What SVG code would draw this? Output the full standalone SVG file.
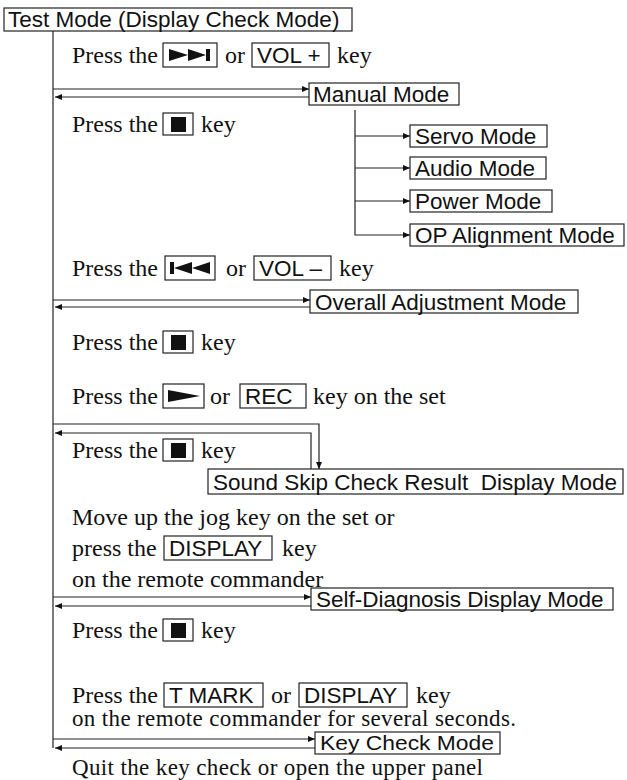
<svg xmlns="http://www.w3.org/2000/svg" width="627" height="780" viewBox="0 0 627 780">
<defs>
<style>
.t{font-family:"Liberation Serif","Times New Roman",serif;font-size:24px;fill:#111}
.s{font-family:"Liberation Sans",Arial,sans-serif;font-size:22.5px;fill:#111;white-space:pre}
.b{fill:#fff;stroke:#222;stroke-width:1.2}
.ln{fill:none;stroke:#222;stroke-width:1.2}
.ic{fill:#111}
</style>
<marker id="ah" markerUnits="userSpaceOnUse" markerWidth="8" markerHeight="6" refX="7" refY="3" orient="auto">
<path d="M0,0 L7,3 L0,6 z" fill="#111"/>
</marker>
</defs>

<g id="connectors">
<line class="ln" x1="53" y1="31" x2="53" y2="748"/>
<line class="ln" x1="53" y1="89" x2="309" y2="89" marker-end="url(#ah)"/>
<line class="ln" x1="309" y1="97" x2="55" y2="97" marker-end="url(#ah)"/>
<path class="ln" d="M355,110 V235 H410" marker-end="url(#ah)"/>
<line class="ln" x1="355" y1="136" x2="410" y2="136" marker-end="url(#ah)"/>
<line class="ln" x1="355" y1="168" x2="410" y2="168" marker-end="url(#ah)"/>
<line class="ln" x1="355" y1="201" x2="410" y2="201" marker-end="url(#ah)"/>
<line class="ln" x1="53" y1="300" x2="310" y2="300" marker-end="url(#ah)"/>
<line class="ln" x1="310" y1="307" x2="55" y2="307" marker-end="url(#ah)"/>
<path class="ln" d="M53,424 H319 V469" marker-end="url(#ah)"/>
<path class="ln" d="M311,469 V433 H55" marker-end="url(#ah)"/>
<line class="ln" x1="53" y1="597" x2="311" y2="597" marker-end="url(#ah)"/>
<line class="ln" x1="311" y1="606" x2="55" y2="606" marker-end="url(#ah)"/>
<line class="ln" x1="53" y1="739" x2="315" y2="739" marker-end="url(#ah)"/>
<line class="ln" x1="315" y1="748" x2="55" y2="748" marker-end="url(#ah)"/>
</g>

<g id="test-mode">
<rect class="b" x="4" y="8" width="348" height="23"/>
<text class="s" x="8" y="27">Test Mode (Display Check Mode)</text>
</g>

<g id="step1">
<text class="t" x="72" y="63">Press the</text>
<rect class="b" x="163" y="43" width="54" height="24"/>
<polygon class="ic" points="169,49 188,55 169,61"/>
<polygon class="ic" points="188,49 206,55 188,61"/>
<rect class="ic" x="206" y="49" width="4" height="12"/>
<text class="t" x="225" y="63">or</text>
<rect class="b" x="252" y="43" width="77" height="24"/>
<text class="s" x="257" y="63">VOL +</text>
<text class="t" x="337" y="63">key</text>
</g>

<g id="manual-mode">
<rect class="b" x="309" y="83" width="150" height="22"/>
<text class="s" x="313" y="102">Manual Mode</text>
</g>

<g id="step2">
<text class="t" x="72" y="132">Press the</text>
<rect class="b" x="163" y="113" width="30" height="22"/>
<rect class="ic" x="171" y="117" width="15" height="15"/>
<text class="t" x="201" y="132">key</text>
</g>

<g id="servo-mode">
<rect class="b" x="410" y="125" width="137" height="22"/>
<text class="s" x="415" y="144">Servo Mode</text>
</g>
<g id="audio-mode">
<rect class="b" x="410" y="157" width="136" height="22"/>
<text class="s" x="415" y="176">Audio Mode</text>
</g>
<g id="power-mode">
<rect class="b" x="410" y="190" width="142" height="22"/>
<text class="s" x="415" y="209">Power Mode</text>
</g>
<g id="op-alignment-mode">
<rect class="b" x="410" y="224" width="214" height="22"/>
<text class="s" x="415" y="243">OP Alignment Mode</text>
</g>

<g id="step3">
<text class="t" x="72" y="276">Press the</text>
<rect class="b" x="165" y="256" width="50" height="24"/>
<rect class="ic" x="170" y="262" width="4" height="12"/>
<polygon class="ic" points="192,262 174,268 192,274"/>
<polygon class="ic" points="210,262 192,268 210,274"/>
<text class="t" x="226" y="276">or</text>
<rect class="b" x="254" y="256" width="77" height="24"/>
<text class="s" x="259" y="276">VOL –</text>
<text class="t" x="339" y="276">key</text>
</g>

<g id="overall-adjustment-mode">
<rect class="b" x="310" y="290" width="268" height="23"/>
<text class="s" x="315" y="310">Overall Adjustment Mode</text>
</g>

<g id="step4">
<text class="t" x="72" y="350">Press the</text>
<rect class="b" x="163" y="331" width="30" height="22"/>
<rect class="ic" x="171" y="335" width="15" height="15"/>
<text class="t" x="201" y="350">key</text>
</g>

<g id="step5">
<text class="t" x="72" y="404">Press the</text>
<rect class="b" x="163" y="384" width="41" height="24"/>
<polygon class="ic" points="168,390 200,396 168,402"/>
<text class="t" x="210" y="404">or</text>
<rect class="b" x="240" y="384" width="66" height="24"/>
<text class="s" x="245" y="404">REC</text>
<text class="t" x="313" y="404">key on the set</text>
</g>

<g id="step6">
<text class="t" x="72" y="458">Press the</text>
<rect class="b" x="163" y="439" width="30" height="22"/>
<rect class="ic" x="171" y="443" width="15" height="15"/>
<text class="t" x="201" y="458">key</text>
</g>

<g id="sound-skip-mode">
<rect class="b" x="208" y="469" width="415" height="25"/>
<text class="s" x="213" y="490">Sound Skip Check Result  Display Mode</text>
</g>

<g id="step7">
<text class="t" x="72" y="525">Move up the jog key on the set or</text>
<text class="t" x="72" y="556">press the</text>
<rect class="b" x="164" y="536" width="108" height="24"/>
<text class="s" x="169" y="556">DISPLAY</text>
<text class="t" x="282" y="556">key</text>
<text class="t" x="72" y="587">on the remote commander</text>
</g>

<g id="self-diagnosis-mode">
<rect class="b" x="311" y="588" width="302" height="22"/>
<text class="s" x="316" y="607">Self-Diagnosis Display Mode</text>
</g>

<g id="step8">
<text class="t" x="72" y="638">Press the</text>
<rect class="b" x="163" y="619" width="30" height="22"/>
<rect class="ic" x="171" y="623" width="15" height="15"/>
<text class="t" x="201" y="638">key</text>
</g>

<g id="step9">
<text class="t" x="72" y="703">Press the</text>
<rect class="b" x="164" y="683" width="99" height="24"/>
<text class="s" x="169" y="703">T MARK</text>
<text class="t" x="271" y="703">or</text>
<rect class="b" x="299" y="683" width="108" height="24"/>
<text class="s" x="304" y="703">DISPLAY</text>
<text class="t" x="416" y="703">key</text>
<text class="t" x="72" y="726" style="font-size:23px" textLength="444" lengthAdjust="spacing">on the remote commander for several seconds.</text>
</g>

<g id="key-check-mode">
<rect class="b" x="315" y="732" width="185" height="22"/>
<text class="s" x="320" y="749.5" style="font-size:20.5px" textLength="174" lengthAdjust="spacingAndGlyphs">Key Check Mode</text>
</g>

<g id="step10">
<text class="t" x="72" y="774.5" style="font-size:23px" textLength="411" lengthAdjust="spacing">Quit the key check or open the upper panel</text>
</g>
</svg>
